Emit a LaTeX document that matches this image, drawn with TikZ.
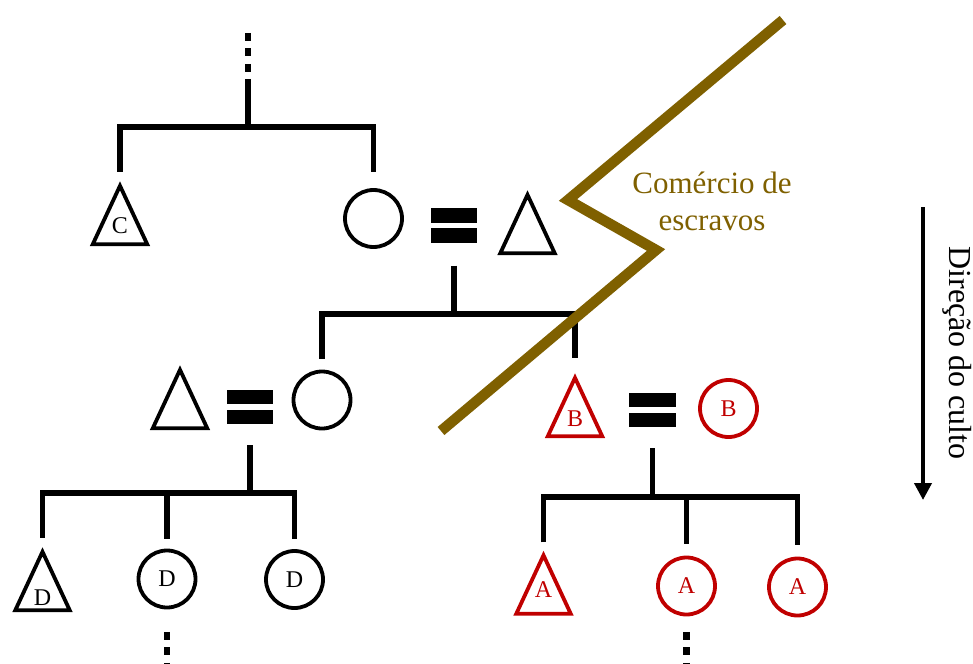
\documentclass[tikz,border=0pt]{standalone}
\usepackage{fontspec}
\setmainfont{Liberation Serif}
\usetikzlibrary{arrows.meta,calc}
\definecolor{kinred}{RGB}{192,0,0}
\definecolor{slavebrown}{RGB}{127,96,0}
\tikzset{
  tree/.style={line width=5.5pt, line join=miter},
  dots/.style={line width=6.5pt, dash pattern=on 8pt off 7.5pt},
  shapeline/.style={line width=3.8pt, line join=miter},
  kincircle/.style={circle, draw, line width=3.8pt, minimum size=57pt, inner sep=0pt, font=\fontsize{24}{28}\selectfont},
  kinlabel/.style={inner sep=0pt, font=\fontsize{24}{28}\selectfont},
  trianglebox/.style={inner sep=0pt, minimum width=54pt, minimum height=58pt},
  marriagebox/.style={inner sep=0pt, minimum width=46pt, minimum height=34pt},
}
\newcommand{\kintri}[5]{% name, position, colour, label, label offset
  \node[trianglebox] (#1) at (#2) {};
  \draw[shapeline, draw=#3] (#1.north) -- (#1.south east) -- (#1.south west) -- cycle;
  \node[kinlabel, text=#3] (#1-l) at ([yshift=-#5pt]#1.center) {#4};
}
\newcommand{\marriage}[2]{% name, position
  \node[marriagebox] (#1) at (#2) {};
  \fill (#1.north west) rectangle ([yshift=-14.5pt]#1.north east);
  \fill ([yshift=14.5pt]#1.south west) rectangle (#1.south east);
}
\begin{document}
\begin{tikzpicture}[x=1pt,y=-1pt]
\useasboundingbox (0,0) rectangle (973,663);

% generation 1
\kintri{C}{120,215}{black}{C}{10.5}
\node[kincircle] (W1) at (373.5,218.5) {};
\marriage{eq1}{454,225.5}
\kintri{T1}{527.5,224}{black}{}{0}

% generation 2
\kintri{T2}{180,399}{black}{}{0}
\marriage{eq2}{250,407}
\node[kincircle] (W2) at (322,400) {};
\kintri{BT}{575,407}{kinred}{B}{12}
\marriage{eq3}{652.5,410}
\node[kincircle, draw=kinred, text=kinred] (BC) at (728.5,408.5) {B};

% generation 3
\kintri{DT}{42.5,581}{black}{D}{17}
\node[kincircle] (D1) at (167,579) {D};
\node[kincircle] (D2) at (294.5,579.5) {D};
\kintri{AT}{543.5,584.5}{kinred}{A}{5}
\node[kincircle, draw=kinred, text=kinred] (A1) at (686.5,586) {A};
\node[kincircle, draw=kinred, text=kinred] (A2) at (797.5,587) {A};

% descent lines
\coordinate (top) at (248,33);
\coordinate (j0) at (248,127);
\draw[dots] (top) -- ++(0,40);
\draw[tree] ($(top)+(0,46)$) -- (j0);
\draw[tree] ([yshift=14pt]C.north) |- (j0) -| ([yshift=16pt]W1.north);

\coordinate (j1) at (eq1.south |- 0,314);
\draw[tree] ([yshift=-23pt]eq1.south) -- (j1);
\draw[tree] ([yshift=11pt]W2.north) |- (j1) -| ([yshift=20pt]BT.north);

\coordinate (j2) at (eq2.south |- 0,493);
\draw[tree] ([yshift=-21pt]eq2.south) -- (j2);
\draw[tree] ([yshift=14pt]DT.north) |- (j2) -| ([yshift=10pt]D2.north);
\draw[tree] ([yshift=10pt]D1.north) -- (D1.north |- j2);
\draw[dots] ([yshift=-22.5pt]D1.south) -- ++(0,40);

\coordinate (j3) at (eq3.south |- 0,497);
\draw[tree] ([yshift=-21pt]eq3.south) -- (j3);
\draw[tree] ([yshift=13pt]AT.north) |- (j3) -| ([yshift=12pt]A2.north);
\draw[tree] ([yshift=12pt]A1.north) -- (A1.north |- j3);
\draw[dots] ([yshift=-15.5pt]A1.south) -- ++(0,40);

% slave trade zigzag
\coordinate (z0) at (783,20);
\coordinate (z1) at (568,200);
\coordinate (z2) at (656,250);
\coordinate (z3) at (441,431);
\draw[line width=10.5pt, slavebrown, line join=miter] (z0) -- (z1) -- (z2) -- (z3);
\node[font=\fontsize{31}{37}\selectfont, text=slavebrown, align=center] (trade) at (712,201) {Comércio de\\escravos};

% direction of cult
\coordinate (a0) at (923,207);
\coordinate (a1) at (923,500);
\draw[line width=4pt, -{Triangle[width=17pt,length=17pt]}] (a0) -- (a1);
\node[rotate=-90, anchor=base, font=\fontsize{32}{38}\selectfont] (dir) at (949,353) {Direção do culto};
\end{tikzpicture}
\end{document}
